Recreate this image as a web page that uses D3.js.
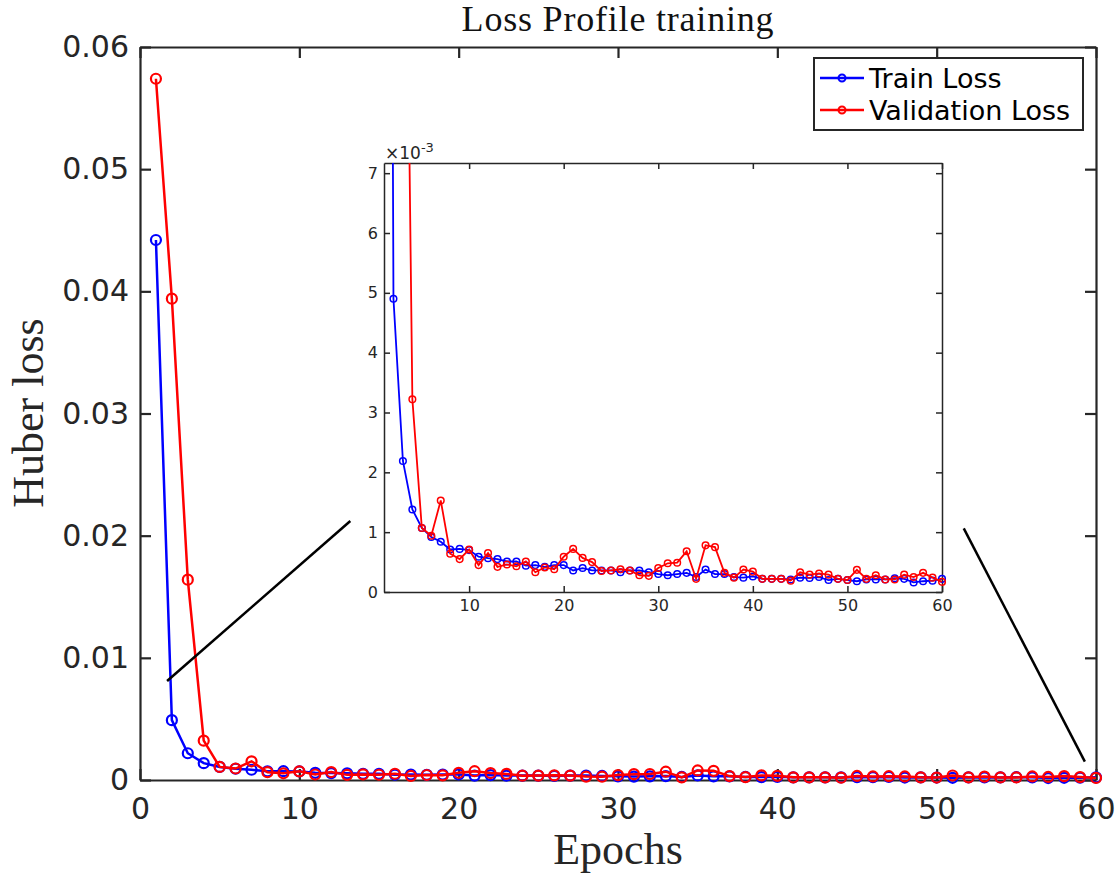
<!DOCTYPE html>
<meta charset="utf-8">
<style>
body { margin: 0; background: #fff; }
.tick text { font-family: "DejaVu Sans", sans-serif; fill: #262626; }
.lbl { font-family: "Liberation Serif", serif; fill: #262626; }
</style>
<body>
<script src="https://d3js.org/d3.v7.min.js"></script>
<script>
// epochs and loss values
var epochs = [1,2,3,4,5,6,7,8,9,10,11,12,13,14,15,16,17,18,19,20,
  21,22,23,24,25,26,27,28,29,30,31,32,33,34,35,36,37,38,39,40,
  41,42,43,44,45,46,47,48,49,50,51,52,53,54,55,56,57,58,59,60];
var trainLoss = [0.0442, 0.00490, 0.00219, 0.00138, 0.00107, 0.00092, 0.00084, 0.00071, 0.00072, 0.00070,
  0.00059, 0.000565, 0.00055, 0.00051, 0.00051, 0.00044, 0.00045, 0.00042, 0.00045, 0.00045,
  0.00036, 0.00040, 0.00036, 0.00036, 0.00036, 0.00033, 0.00036, 0.00036, 0.00033, 0.00030,
  0.00028, 0.00030, 0.00032, 0.00025, 0.000375, 0.00030, 0.00030, 0.00025, 0.00024, 0.00026,
  0.00022, 0.00022, 0.00022, 0.00021, 0.00024, 0.000235, 0.00025, 0.00020, 0.00022, 0.00020,
  0.00018, 0.00021, 0.00021, 0.00021, 0.00023, 0.00022, 0.00016, 0.00018, 0.00019, 0.00022];
var valLoss = [0.0574, 0.0394, 0.0164, 0.00322, 0.00107, 0.00094, 0.00153, 0.00064, 0.00055, 0.00071,
  0.00045, 0.00065, 0.00042, 0.00046, 0.00043, 0.00051, 0.00033, 0.00041, 0.00038, 0.00059,
  0.00072, 0.00057, 0.00050, 0.00035, 0.00036, 0.00038, 0.00036, 0.00028, 0.00027, 0.00040,
  0.00048, 0.00049, 0.00068, 0.00022, 0.00078, 0.00075, 0.00032, 0.00024, 0.000375, 0.00034,
  0.00022, 0.00022, 0.00022, 0.00019, 0.00033, 0.00029, 0.00031, 0.00029, 0.00022, 0.00020,
  0.00037, 0.00022, 0.00028, 0.00021, 0.00021, 0.00029, 0.00025, 0.00032, 0.00024, 0.00017];
var seriesNames = ["Train Loss", "Validation Loss"];
var seriesColors = ["#0000ff", "#ff0000"];
var xTicks = [0, 10, 20, 30, 40, 50, 60];
var yTicks = [0, 0.01, 0.02, 0.03, 0.04, 0.05, 0.06];
var insetXTicks = [10, 20, 30, 40, 50, 60];
var insetYTicks = [0, 0.001, 0.002, 0.003, 0.004, 0.005, 0.006, 0.007];
// zoom indicator lines, in main-axis data units
var zoomLines = [[[1.7, 0.0081], [13.2, 0.0212]], [[51.7, 0.0206], [59.3, 0.0015]]];

var width = 1119, height = 876;
var axisColor = "#262626";

var svg = d3.select("body").append("svg")
    .attr("width", width)
    .attr("height", height);

var x = d3.scaleLinear().domain([0, 60]).range([140, 1096]);
var y = d3.scaleLinear().domain([0, 0.06]).range([780, 47]);

var series = [trainLoss, valLoss].map(function(vals, i) {
  return {name: seriesNames[i], color: seriesColors[i],
    pts: epochs.map(function(e, j) { return [e, vals[j]]; })};
});

function styleAxis(g, w) {
  g.select(".domain").attr("stroke", axisColor).attr("stroke-width", w);
  g.selectAll(".tick line").attr("stroke", axisColor).attr("stroke-width", w);
}

// main axes
var gx = svg.append("g").attr("transform", "translate(0,780)")
    .call(d3.axisBottom(x).tickValues(xTicks).tickSize(-11).tickSizeOuter(0).tickPadding(18)
      .tickFormat(d3.format("d")));
gx.selectAll("text").style("font-size", "30px");
styleAxis(gx, 2.2);
var gxt = svg.append("g").attr("transform", "translate(0,47)")
    .call(d3.axisTop(x).tickValues(xTicks).tickSize(-11).tickSizeOuter(0).tickFormat(""));
styleAxis(gxt, 2.2);

var gy = svg.append("g").attr("transform", "translate(140,0)")
    .call(d3.axisLeft(y).tickValues(yTicks).tickSize(-11).tickSizeOuter(0).tickPadding(11)
      .tickFormat(function(d) { return d === 0 ? "0" : d3.format(".2f")(d); }));
gy.selectAll("text").style("font-size", "30px");
styleAxis(gy, 2.2);
var gyr = svg.append("g").attr("transform", "translate(1096,0)")
    .call(d3.axisRight(y).tickValues(yTicks).tickSize(-11).tickSizeOuter(0).tickFormat(""));
styleAxis(gyr, 2.2);

var line = d3.line().x(function(d) { return x(d[0]); }).y(function(d) { return y(d[1]); });

series.forEach(function(s) {
  svg.append("path").datum(s.pts)
      .attr("fill", "none").attr("stroke", s.color).attr("stroke-width", 2.5)
      .attr("d", line);
  svg.append("g").selectAll("circle").data(s.pts).enter().append("circle")
      .attr("cx", function(d) { return x(d[0]); })
      .attr("cy", function(d) { return y(d[1]); })
      .attr("r", 5)
      .attr("fill", "none").attr("stroke", s.color).attr("stroke-width", 2.2);
});

// titles
svg.append("text").attr("class", "lbl")
    .attr("x", 618).attr("y", 31).attr("text-anchor", "middle")
    .style("font-size", "36px").style("letter-spacing", "0.8px").style("fill", "#111")
    .text("Loss Profile training");
svg.append("text").attr("class", "lbl")
    .attr("x", 618).attr("y", 864).attr("text-anchor", "middle")
    .style("font-size", "44px")
    .text("Epochs");
svg.append("text").attr("class", "lbl")
    .attr("transform", "translate(43,413) rotate(-90)")
    .attr("text-anchor", "middle")
    .style("font-size", "44px")
    .text("Huber loss");

// zoom lines
zoomLines.forEach(function(l) {
  svg.append("line")
      .attr("x1", x(l[0][0])).attr("y1", y(l[0][1]))
      .attr("x2", x(l[1][0])).attr("y2", y(l[1][1]))
      .attr("stroke", "#000").attr("stroke-width", 2.5);
});

// legend
var leg = svg.append("g");
leg.append("rect").attr("x", 814).attr("y", 58).attr("width", 269).attr("height", 72)
    .attr("fill", "#fff").attr("stroke", axisColor).attr("stroke-width", 2);
series.forEach(function(s, i) {
  var ly = 78 + i * 32;
  leg.append("line").attr("x1", 820).attr("x2", 864).attr("y1", ly).attr("y2", ly)
      .attr("stroke", s.color).attr("stroke-width", 2.5);
  leg.append("circle").attr("cx", 842).attr("cy", ly).attr("r", 3.5)
      .attr("fill", "none").attr("stroke", s.color).attr("stroke-width", 2);
  leg.append("text").attr("x", 869).attr("y", ly + 10)
      .style("font-family", "DejaVu Sans, sans-serif").style("font-size", "27px").style("fill", "#000")
      .text(s.name);
});

// inset
var ix = d3.scaleLinear().domain([1, 60]).range([384, 942]);
var iy = d3.scaleLinear().domain([0, 0.00717]).range([592, 163]);

svg.append("rect").attr("x", 384).attr("y", 163).attr("width", 558).attr("height", 429)
    .attr("fill", "#fff");
svg.append("clipPath").attr("id", "insetClip").append("rect")
    .attr("x", 380).attr("y", 163).attr("width", 566).attr("height", 433);

var ixa = svg.append("g").attr("transform", "translate(0,592)")
    .call(d3.axisBottom(ix).tickValues(insetXTicks).tickSize(-6).tickSizeOuter(0).tickPadding(8)
      .tickFormat(d3.format("d")));
ixa.selectAll("text").style("font-size", "16px");
styleAxis(ixa, 1.5);
var ixt = svg.append("g").attr("transform", "translate(0,163)")
    .call(d3.axisTop(ix).tickValues(insetXTicks).tickSize(-6).tickSizeOuter(0).tickFormat(""));
styleAxis(ixt, 1.5);
var iya = svg.append("g").attr("transform", "translate(384,0)")
    .call(d3.axisLeft(iy).tickValues(insetYTicks).tickSize(-6).tickSizeOuter(0).tickPadding(6)
      .tickFormat(function(d) { return Math.round(d * 1000); }));
iya.selectAll("text").style("font-size", "16px");
styleAxis(iya, 1.5);
var iyr = svg.append("g").attr("transform", "translate(942,0)")
    .call(d3.axisRight(iy).tickValues(insetYTicks).tickSize(-6).tickSizeOuter(0).tickFormat(""));
styleAxis(iyr, 1.5);

var exp = svg.append("text").attr("x", 385).attr("y", 159)
    .style("font-family", "DejaVu Sans, sans-serif").style("font-size", "17px").style("fill", axisColor);
exp.append("tspan").text("\u00d710");
exp.append("tspan").attr("dy", -7).style("font-size", "13px").text("-3");

var iline = d3.line().x(function(d) { return ix(d[0]); }).y(function(d) { return iy(d[1]); });
var ig = svg.append("g").attr("clip-path", "url(#insetClip)");
series.forEach(function(s) {
  ig.append("path").datum(s.pts)
      .attr("fill", "none").attr("stroke", s.color).attr("stroke-width", 1.8)
      .attr("d", iline);
  ig.append("g").selectAll("circle").data(s.pts.filter(function(d) { return d[1] < 0.00717; }))
      .enter().append("circle")
      .attr("cx", function(d) { return ix(d[0]); })
      .attr("cy", function(d) { return iy(d[1]); })
      .attr("r", 3.3)
      .attr("fill", "none").attr("stroke", s.color).attr("stroke-width", 1.5);
});
</script>
</body>
